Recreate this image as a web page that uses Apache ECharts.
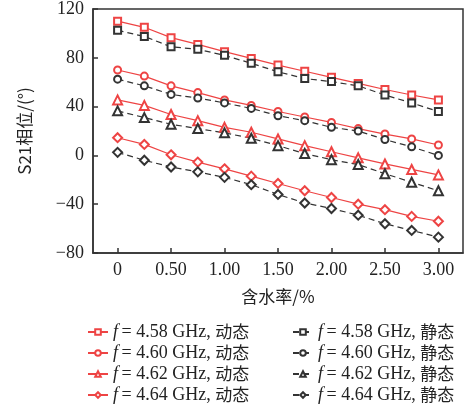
<!DOCTYPE html>
<html>
<head>
<meta charset="utf-8">
<script src="https://cdn.jsdelivr.net/npm/echarts@6/dist/echarts.min.js"></script>
<style>
	html, body { margin: 0; padding: 0; background: #fff; }
	#main { width: 475px; height: 410px; }
</style>
</head>
<body>
<div id="main"></div>
<script>
	// 含水率 (%)
	const waterContent = [0, 0.25, 0.5, 0.75, 1.0, 1.25, 1.5, 1.75, 2.0, 2.25, 2.5, 2.75, 3.0];
	const xTicks = [0, 0.5, 1.0, 1.5, 2.0, 2.5, 3.0];

	// 动态
	const dyn458 = [110, 105, 96.5, 91, 85, 79.5, 74, 69, 64, 59, 54, 49.5, 45.5];
	const dyn460 = [70, 65, 57, 51.5, 45.5, 41, 36, 31.5, 27, 22, 17.5, 13.5, 8.5];
	const dyn462 = [45.5, 41, 33.5, 28.5, 23, 19, 13.5, 8, 3, -2, -7, -11.5, -16];
	const dyn464 = [14.5, 9, 0.5, -5.5, -11, -17, -23, -29, -34.5, -40, -44.5, -50, -54];
	// 静态
	const sta458 = [102.5, 97.5, 89, 87, 82, 75.5, 68.5, 63, 60.5, 57, 49.5, 43, 36];
	const sta460 = [62.5, 57, 50, 47, 43, 38.5, 32.5, 28.5, 23, 20, 13, 7, 0];
	const sta462 = [36.5, 31, 25.5, 22, 18.5, 14, 8, 1.5, -3.5, -7.5, -15, -22, -29];
	const sta464 = [2.5, -4, -9.5, -13.5, -18, -24, -32, -39, -43.5, -49, -56, -61.5, -67];

	const freqs = ['4.58', '4.60', '4.62', '4.64'];
	const symbols = ['emptyRect', 'emptyCircle', 'emptyTriangle', 'emptyDiamond'];
	const symSizes = [7, 7, 9, 9];
	const RED = '#ee4444';
	const GRAY = '#333333';

	const pair = arr => arr.map((v, i) => [waterContent[i], v]);

	function makeSeries(name, data, idx, color, dashed) {
		return {
			name: name,
			type: 'line',
			data: pair(data),
			symbol: symbols[idx],
			symbolSize: symSizes[idx],
			color: color,
			itemStyle: { color: color, borderColor: color, borderWidth: 1 },
			lineStyle: { color: color, width: 1.2, type: dashed ? [6, 4] : 'solid' },
			animation: false
		};
	}

	const dynNames = freqs.map(f => 'f = ' + f + ' GHz, 动态');
	const staNames = freqs.map(f => 'f = ' + f + ' GHz, 静态');
	const dynData = [dyn458, dyn460, dyn462, dyn464];
	const staData = [sta458, sta460, sta462, sta464];

	const series = [];
	dynData.forEach((d, i) => series.push(makeSeries(dynNames[i], d, i, RED, false)));
	staData.forEach((d, i) => series.push(makeSeries(staNames[i], d, i, GRAY, true)));

	const serif = '"Liberation Serif", "DejaVu Serif", serif';
	const cjk = '"Noto Sans CJK SC", sans-serif';
	const legendText = {
		fontFamily: serif,
		fontSize: 18,
		color: '#222',
		rich: {
			f: { fontStyle: 'italic', fontFamily: serif, fontSize: 18, color: '#222', lineHeight: 18 },
			t: { fontFamily: serif, fontSize: 18, color: '#222', lineHeight: 18 },
			c: { fontFamily: cjk, fontSize: 17, color: '#222', lineHeight: 18 }
		}
	};

	const legendBase = {
		orient: 'vertical',
		top: 318,
		itemGap: 3,
		itemWidth: 20,
		itemHeight: 7,
		textStyle: legendText,
		formatter: name => {
			const m = name.match(/^f = ([0-9.]+) GHz, (.*)$/);
			return '{f|f}{t|\u2009= ' + m[1] + ' GHz, }{c|' + m[2] + '}';
		},
		selectedMode: false
	};

	const chart = echarts.init(document.getElementById('main'));
	chart.setOption({
		backgroundColor: '#fff',
		animation: false,
		grid: {
			left: 93, top: 8, right: 12, bottom: 157,
			show: true, borderColor: '#333', borderWidth: 1.5, backgroundColor: 'transparent'
		},
		legend: [
			Object.assign({}, legendBase, { left: 82, data: dynNames }),
			Object.assign({}, legendBase, { left: 287, data: staNames })
		],
		xAxis: {
			type: 'value',
			min: -0.23,
			max: 3.23,
			name: '含水率/%',
			nameLocation: 'middle',
			nameGap: 35,
			nameTextStyle: { fontFamily: cjk, fontSize: 17, color: '#222' },
			splitLine: { show: false },
			axisLine: { onZero: false, lineStyle: { color: '#333', width: 1.5 } },
			axisTick: { inside: true, length: 5, lineStyle: { color: '#333', width: 1.5 }, customValues: xTicks },
			axisLabel: {
				fontFamily: serif, fontSize: 18, color: '#222', margin: 8,
				customValues: xTicks,
				formatter: v => v === 0 ? '0' : v.toFixed(2)
			}
		},
		yAxis: {
			type: 'value',
			min: -80,
			max: 120,
			interval: 40,
			name: 'S21相位/(°)',
			nameLocation: 'middle',
			nameGap: 60,
			nameTextStyle: { fontFamily: cjk, fontSize: 17, color: '#222' },
			splitLine: { show: false },
			axisLine: { onZero: false, lineStyle: { color: '#333', width: 1.5 } },
			axisTick: { inside: true, length: 5, lineStyle: { color: '#333', width: 1.5 } },
			axisLabel: {
				fontFamily: serif, fontSize: 18, color: '#222', margin: 9,
				formatter: v => v < 0 ? '\u2212' + Math.abs(v) : String(v)
			}
		},
		series: series
	});
</script>
</body>
</html>
